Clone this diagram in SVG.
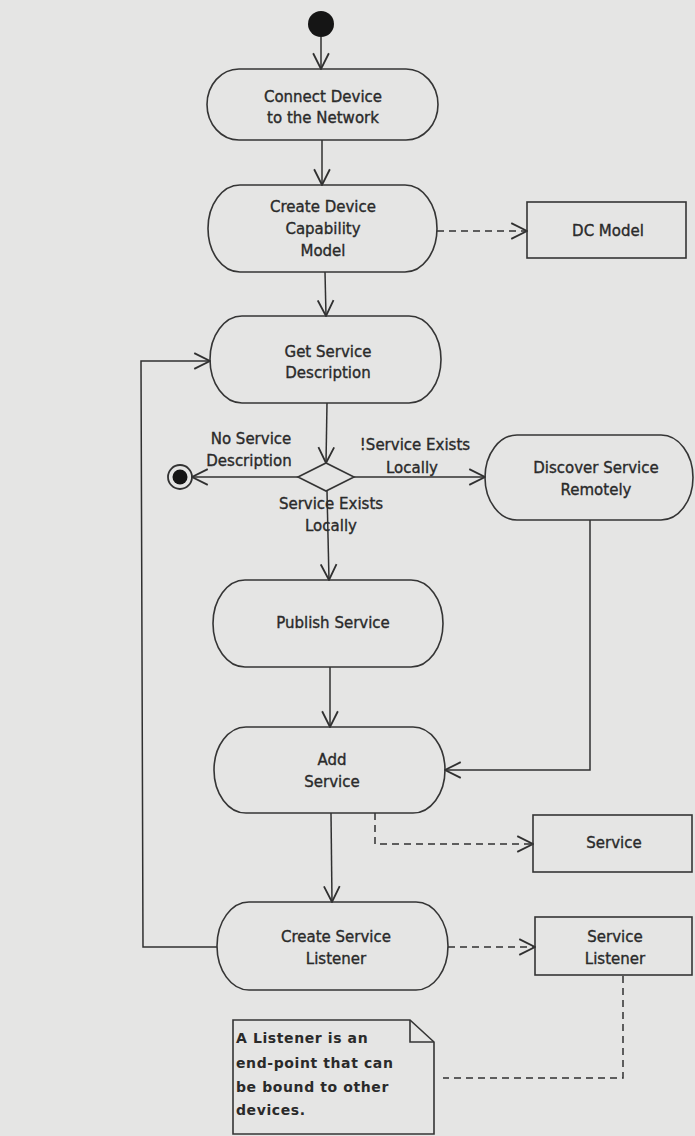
<svg xmlns="http://www.w3.org/2000/svg" width="695" height="1136" viewBox="0 0 695 1136">
  <style>
    .bg { fill: #e5e5e4; }
    .act { fill: none; stroke: #353535; stroke-width: 1.6; }
    .obj { fill: none; stroke: #353535; stroke-width: 1.6; }
    .flow { fill: none; stroke: #303030; stroke-width: 1.5; }
    .dep { fill: none; stroke: #303030; stroke-width: 1.5; stroke-dasharray: 7 5; }
    .lbl { font-family: "DejaVu Sans", "Liberation Sans", sans-serif; font-size: 15px; fill: #2a2a2a; stroke: #2a2a2a; stroke-width: 0.35; text-anchor: middle; }
    .note { font-family: "DejaVu Sans", "Liberation Sans", sans-serif; font-size: 14px; font-weight: bold; fill: #2a2a2a; letter-spacing: 0.6px; }
  </style>
  <defs>
    <marker id="open" markerUnits="userSpaceOnUse" markerWidth="18" markerHeight="18" viewBox="0 0 16 16" refX="15" refY="8" orient="auto">
      <path d="M1,1 L15,8 L1,15" fill="none" stroke="#303030" stroke-width="1.6"/>
    </marker>
  </defs>

  <rect class="bg" x="0" y="0" width="695" height="1136"/>

  <!-- control flow and dependency connectors -->
  <g id="connectors">
    <line class="flow" x1="321" y1="37" x2="321" y2="69" marker-end="url(#open)"/>
    <line class="flow" x1="322" y1="140" x2="322" y2="185" marker-end="url(#open)"/>
    <line class="dep" x1="437" y1="231" x2="527" y2="231" marker-end="url(#open)"/>
    <line class="flow" x1="325" y1="272" x2="326" y2="316" marker-end="url(#open)"/>
    <line class="flow" x1="327" y1="403" x2="326" y2="463" marker-end="url(#open)"/>
    <line class="flow" x1="298" y1="477" x2="192" y2="477" marker-end="url(#open)"/>
    <line class="flow" x1="354" y1="477" x2="485" y2="477" marker-end="url(#open)"/>
    <line class="flow" x1="327" y1="491" x2="329" y2="580" marker-end="url(#open)"/>
    <polyline class="flow" points="590,520 590,770 445,770" marker-end="url(#open)"/>
    <line class="flow" x1="330" y1="667" x2="330" y2="727" marker-end="url(#open)"/>
    <line class="flow" x1="331" y1="813" x2="332" y2="902" marker-end="url(#open)"/>
    <polyline class="dep" points="375,813 375,844 533,844" marker-end="url(#open)"/>
    <polyline class="flow" points="217,947 143,947 141,361 210,361" marker-end="url(#open)"/>
    <line class="dep" x1="448" y1="947" x2="535" y2="947" marker-end="url(#open)"/>
    <polyline class="dep" points="623,976 623,1078 443,1078"/>
    <!-- guard labels -->
    <text class="lbl" x="251" y="444">No Service</text>
    <text class="lbl" x="249" y="466">Description</text>
    <text class="lbl" x="415" y="450">!Service Exists</text>
    <text class="lbl" x="412" y="473">Locally</text>
    <text class="lbl" x="331" y="509">Service Exists</text>
    <text class="lbl" x="331" y="531">Locally</text>
  </g>

  <g id="start">
    <circle cx="321" cy="24" r="13" fill="#151515"/>
  </g>

  <g id="connect-device">
    <rect class="act" x="207" y="69" width="231" height="71" rx="32" ry="35.5"/>
    <text class="lbl" x="323" y="102">Connect Device</text>
    <text class="lbl" x="323" y="123">to the Network</text>
  </g>

  <g id="create-dc-model">
    <rect class="act" x="208" y="185" width="229" height="87" rx="32" ry="43.5"/>
    <text class="lbl" x="323" y="212">Create Device</text>
    <text class="lbl" x="323" y="234">Capability</text>
    <text class="lbl" x="323" y="256">Model</text>
  </g>

  <g id="dc-model">
    <rect class="obj" x="527" y="202" width="159" height="56"/>
    <text class="lbl" x="608" y="236">DC Model</text>
  </g>

  <g id="get-service-description">
    <rect class="act" x="210" y="316" width="231" height="87" rx="32" ry="43.5"/>
    <text class="lbl" x="328" y="357">Get Service</text>
    <text class="lbl" x="328" y="378">Description</text>
  </g>

  <g id="decision">
    <polygon class="act" points="298,477 326,463 354,477 326,491"/>
  </g>

  <g id="final">
    <circle cx="180" cy="477" r="12" fill="none" stroke="#333" stroke-width="1.8"/>
    <circle cx="180" cy="477" r="7.5" fill="#151515"/>
  </g>

  <g id="discover-service">
    <rect class="act" x="485" y="435" width="208" height="85" rx="32" ry="42.5"/>
    <text class="lbl" x="596" y="473">Discover Service</text>
    <text class="lbl" x="596" y="495">Remotely</text>
  </g>

  <g id="publish-service">
    <rect class="act" x="213" y="580" width="230" height="87" rx="32" ry="43.5"/>
    <text class="lbl" x="333" y="628">Publish Service</text>
  </g>

  <g id="add-service">
    <rect class="act" x="214" y="727" width="231" height="86" rx="32" ry="43"/>
    <text class="lbl" x="332" y="765">Add</text>
    <text class="lbl" x="332" y="787">Service</text>
  </g>

  <g id="service">
    <rect class="obj" x="533" y="815" width="159" height="57"/>
    <text class="lbl" x="614" y="848">Service</text>
  </g>

  <g id="create-service-listener">
    <rect class="act" x="217" y="902" width="231" height="88" rx="32" ry="44"/>
    <text class="lbl" x="336" y="942">Create Service</text>
    <text class="lbl" x="336" y="964">Listener</text>
  </g>

  <g id="service-listener">
    <rect class="obj" x="535" y="917" width="157" height="58"/>
    <text class="lbl" x="615" y="942">Service</text>
    <text class="lbl" x="615" y="964">Listener</text>
  </g>

  <g id="listener-note">
    <path class="obj" d="M233,1020 H410 L434,1042 V1134 H233 Z"/>
    <path class="obj" d="M410,1020 V1042 H434"/>
    <text class="note" x="236" y="1043">A Listener is an</text>
    <text class="note" x="236" y="1068">end-point that can</text>
    <text class="note" x="236" y="1092">be bound to other</text>
    <text class="note" x="236" y="1115">devices.</text>
  </g>
</svg>
